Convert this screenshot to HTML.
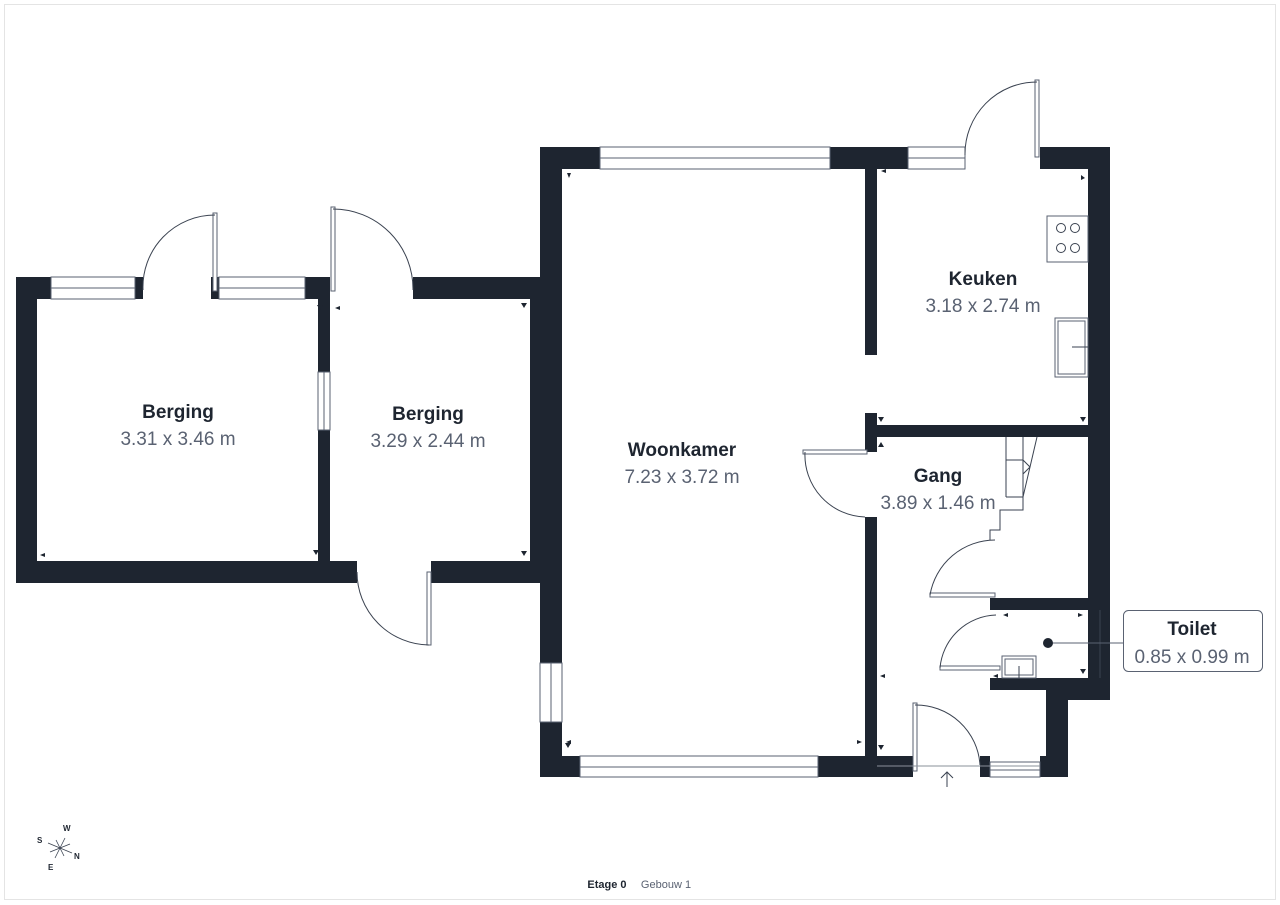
<!DOCTYPE html>
<html><head><meta charset="utf-8"><style>
html,body{margin:0;padding:0;background:#fff;}
svg{display:block;}
text{font-family:"Liberation Sans",sans-serif;}
.t{font-weight:bold;font-size:19px;fill:#1e2530;text-anchor:middle;}
.d{font-size:19px;fill:#5a6272;text-anchor:middle;}
</style></head><body>
<svg width="1280" height="905" viewBox="0 0 1280 905" xmlns="http://www.w3.org/2000/svg">
<rect x="4.5" y="4.5" width="1271" height="895" fill="#fff" stroke="#e4e4e4"/>
<g fill="#1e2530">
<rect x="16" y="277" width="21" height="306"/>
<rect x="16" y="277" width="35" height="22"/>
<rect x="135" y="277" width="8" height="22"/>
<rect x="211" y="277" width="8" height="22"/>
<rect x="305" y="277" width="25" height="22"/>
<rect x="318" y="277" width="12" height="95"/>
<rect x="318" y="430" width="12" height="153"/>
<rect x="16" y="561" width="341" height="22"/>
<rect x="413" y="277" width="127" height="22"/>
<rect x="431" y="561" width="109" height="22"/>
<rect x="530" y="277" width="10" height="306"/>
<rect x="540" y="147" width="22" height="516"/>
<rect x="540" y="722" width="22" height="55"/>
<rect x="540" y="147" width="60" height="22"/>
<rect x="830" y="147" width="78" height="22"/>
<rect x="1040" y="147" width="70" height="22"/>
<rect x="1088" y="147" width="22" height="553"/>
<rect x="540" y="756" width="40" height="21"/>
<rect x="818" y="756" width="95" height="21"/>
<rect x="865" y="169" width="12" height="186"/>
<rect x="865" y="413" width="12" height="39"/>
<rect x="865" y="517" width="12" height="250"/>
<rect x="865" y="425" width="245" height="12"/>
<rect x="990" y="598" width="120" height="12"/>
<rect x="990" y="678" width="78" height="12"/>
<rect x="1046" y="678" width="22" height="99"/>
<rect x="1068" y="678" width="42" height="22"/>
<rect x="980" y="756" width="10" height="21"/>
<rect x="1040" y="756" width="28" height="21"/>
<!-- dimension markers -->
<path d="M569 178 l-2 -5 l4 0z M1085 178 l-4 -3 l0 5z M881 171 l5 -2 l0 4z M881 422 l-3 -5 l6 0z M1083 422 l-3 -5 l6 0z"/>
<path d="M320 310 l-3 -5 l6 0z M40 555 l5 -2 l0 4z M316 555 l-3 -5 l6 0z M335 308 l5 -2 l0 4z M524 308 l-3 -5 l6 0z M524 556 l-3 -5 l6 0z"/>
<path d="M881 442 l-3 5 l6 0z M566 742 l5 -2 l0 4z M568 748 l-3 -5 l6 0z M862 742 l-5 -2 l0 4z M881 750 l-3 -5 l6 0z M880 676 l5 -2 l0 4z M993 676 l5 -2 l0 4z M1003 615 l5 -2 l0 4z M1083 615 l-5 -2 l0 4z M1083 674 l-3 -5 l6 0z"/>
</g>
<g fill="#fff" stroke="#5a6272" stroke-width="1">
<rect x="51" y="277" width="84" height="22"/><line x1="51" y1="288" x2="135" y2="288"/>
<rect x="219" y="277" width="86" height="22"/><line x1="219" y1="288" x2="305" y2="288"/>
<rect x="318" y="372" width="12" height="58"/><line x1="324" y1="372" x2="324" y2="430"/>
<rect x="600" y="147" width="230" height="22"/><line x1="600" y1="158" x2="830" y2="158"/>
<rect x="908" y="147" width="57" height="22"/><line x1="908" y1="158" x2="965" y2="158"/>
<rect x="540" y="663" width="22" height="59"/><line x1="551" y1="663" x2="551" y2="722"/>
<rect x="580" y="756" width="238" height="21"/><line x1="580" y1="767" x2="818" y2="767"/>
<rect x="990" y="762" width="50" height="15"/><line x1="990" y1="770" x2="1040" y2="770"/>
<rect x="213" y="213" width="4" height="78"/>
<rect x="331" y="207" width="4" height="84"/>
<rect x="427" y="572" width="4" height="73"/>
<rect x="1035" y="80" width="4" height="77"/>
<rect x="803" y="450" width="64" height="4"/>
<rect x="930" y="593" width="65" height="4"/>
<rect x="940" y="666" width="60" height="4"/>
<rect x="913" y="703" width="4" height="68"/>
<rect x="1047" y="216" width="41" height="46"/>
<rect x="1055" y="318" width="33" height="59"/><rect x="1058" y="321" width="27" height="53"/>
<rect x="1002" y="656" width="34" height="22"/><rect x="1005" y="659" width="28" height="16"/>
</g>
<g fill="none" stroke="#3a4250" stroke-width="1">
<path d="M143 290 A72 72 0 0 1 215 215"/>
<path d="M413 290 A80 80 0 0 0 333 209"/>
<path d="M357 572 A73 73 0 0 0 429 645"/>
<path d="M965 155 A72 72 0 0 1 1037 82"/>
<path d="M805 452 A62 62 0 0 0 865 517"/>
<path d="M930 595 A66 66 0 0 1 995 540"/>
<path d="M940 668 A58 58 0 0 1 996 615"/>
<path d="M915 705 A64 64 0 0 1 980 765"/>
<circle cx="1061" cy="228" r="4.5"/><circle cx="1075" cy="228" r="4.5"/>
<circle cx="1061" cy="248" r="4.5"/><circle cx="1075" cy="248" r="4.5"/>
<line x1="1072" y1="347" x2="1088" y2="347"/>
<line x1="1019" y1="666" x2="1019" y2="678"/>
<path d="M1006 437 V497 M1023 437 V497 M1006 460 H1023 M1006 497 H1023 L1037 437 M1023 460 L1030 467 L1023 474"/>
<path d="M1023 497 V510 H1000 V530 H990 V540"/>
<line x1="1100" y1="610" x2="1100" y2="678"/>
<line x1="1045" y1="643" x2="1123" y2="643" stroke="#5a6272"/>
<line x1="877" y1="766" x2="1040" y2="766" stroke="#8a909a"/>
<path d="M947 787 V772 M941 778 L947 772 L953 778"/>
</g>
<circle cx="1048" cy="643" r="5" fill="#1e2530"/>
<rect x="1123.5" y="610.5" width="139" height="61" rx="5" fill="#fff" stroke="#5a6272"/>
<text class="t" x="178" y="418">Berging</text><text class="d" x="178" y="445">3.31 x 3.46 m</text>
<text class="t" x="428" y="420">Berging</text><text class="d" x="428" y="447">3.29 x 2.44 m</text>
<text class="t" x="682" y="456">Woonkamer</text><text class="d" x="682" y="483">7.23 x 3.72 m</text>
<text class="t" x="983" y="285">Keuken</text><text class="d" x="983" y="312">3.18 x 2.74 m</text>
<text class="t" x="938" y="482">Gang</text><text class="d" x="938" y="509">3.89 x 1.46 m</text>
<text class="t" x="1192" y="635">Toilet</text><text class="d" x="1192" y="663">0.85 x 0.99 m</text>
<g stroke="#3a4250" stroke-width="0.8">
<line x1="48" y1="843" x2="72" y2="853"/><line x1="55" y1="858" x2="65" y2="838"/>
<line x1="50" y1="852" x2="70" y2="844"/><line x1="56" y1="840" x2="64" y2="856"/>
</g>
<g font-size="8" font-weight="bold" fill="#1e2530" font-family="Liberation Sans,sans-serif">
<text x="63" y="831">W</text><text x="37" y="843">S</text><text x="74" y="859">N</text><text x="48" y="870">E</text>
</g>
<text x="607" y="888" font-size="11" font-weight="bold" fill="#1e2530" text-anchor="middle">Etage 0</text>
<text x="666" y="888" font-size="11" fill="#5a6272" text-anchor="middle">Gebouw 1</text>
</svg>
</body></html>
